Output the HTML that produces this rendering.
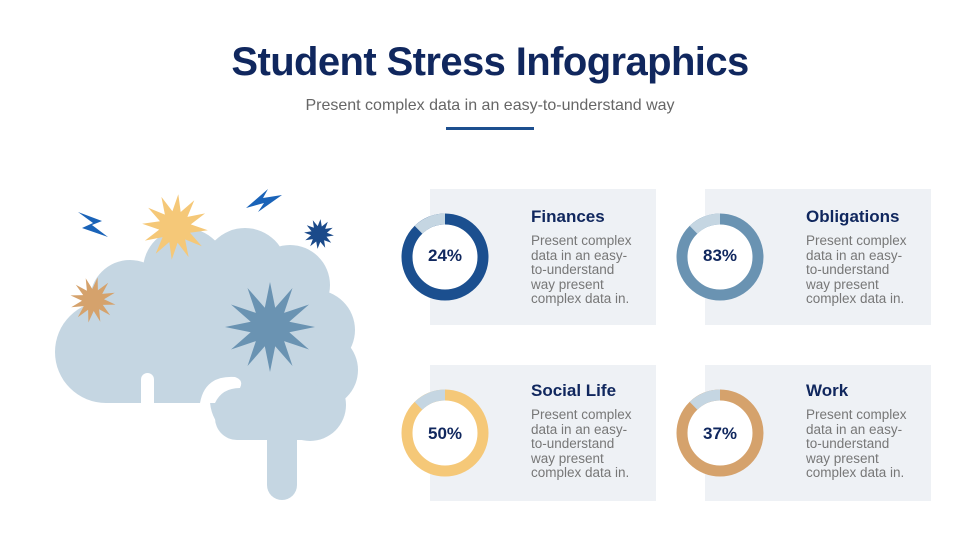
<!DOCTYPE html>
<html><head><meta charset="utf-8"><style>
body{margin:0;width:980px;height:551px;background:#fff;font-family:"Liberation Sans",sans-serif;position:relative;overflow:hidden}
h1{position:absolute;left:0;width:980px;top:40px;margin:0;text-align:center;font-size:40px;color:#10275e;font-weight:bold;letter-spacing:-0.6px}
.sub{position:absolute;left:0;width:980px;top:97px;text-align:center;font-size:16px;color:#666}
.bar{position:absolute;left:446px;top:127px;width:88px;height:3px;background:#1d4f8f}
.card{position:absolute;width:226px;height:136px;background:#eef1f5}
.t{position:absolute;font-size:17px;font-weight:bold;color:#10275e}
.d{position:absolute;font-size:13.5px;line-height:14.6px;color:#777}
.p{position:absolute;font-size:17px;font-weight:bold;color:#10275e;width:80px;text-align:center}
</style></head><body>
<h1>Student Stress Infographics</h1>
<div class="sub">Present complex data in an easy-to-understand way</div>
<div class="bar"></div>
<div class="card" style="left:430px;top:189px"></div>
<div class="card" style="left:705px;top:189px"></div>
<div class="card" style="left:430px;top:365px"></div>
<div class="card" style="left:705px;top:365px"></div>
<svg width="980" height="551" style="position:absolute;left:0;top:0">
<g fill="#fff" stroke-width="11">
<circle cx="445" cy="257" r="38" stroke="#1b4f8f"/><path d="M445 219 A38 38 0 0 0 418.5 229.8" fill="none" stroke="#c5d6e2"/>
<circle cx="720" cy="257" r="38" stroke="#6a93b2"/><path d="M720 219 A38 38 0 0 0 693.5 229.8" fill="none" stroke="#c5d6e2"/>
<circle cx="445" cy="433" r="38" stroke="#f5c878"/><path d="M445 395 A38 38 0 0 0 418.5 405.8" fill="none" stroke="#c5d6e2"/>
<circle cx="720" cy="433" r="38" stroke="#d5a26c"/><path d="M720 395 A38 38 0 0 0 693.5 405.8" fill="none" stroke="#c5d6e2"/>
</g>
<g fill="#c5d6e2">
<circle cx="106" cy="352" r="51"/><circle cx="130" cy="300" r="40"/><circle cx="185" cy="270" r="42"/>
<circle cx="245" cy="270" r="42"/><circle cx="290" cy="285" r="40"/><circle cx="315" cy="330" r="40"/>
<circle cx="320" cy="370" r="38"/><circle cx="250" cy="400" r="40"/><circle cx="310" cy="405" r="36"/>
<rect x="106" y="320" width="154" height="83"/><rect x="130" y="280" width="180" height="100"/>
<rect x="215" y="380" width="110" height="60" rx="22"/>
<rect x="267" y="420" width="30" height="80" rx="15"/>
</g>
<g fill="#fff">
<rect x="141" y="373" width="13" height="40" rx="6.5"/>
<path d="M200 403 Q205 375 235 377 Q244 380 240 388 Q222 388 215 403 Z"/>
</g>
<g id="stars"></g>
<g fill="#1a63b8">
<polygon points="78,212 102,221 92,225 108,237 82,228 93,223"/>
<polygon points="246,208 268,189 263,198 282,195 258,212 264,203"/>
</g>
</svg>
<div class="p" style="left:405px;top:246px">24%</div>
<div class="p" style="left:680px;top:246px">83%</div>
<div class="p" style="left:405px;top:424px">50%</div>
<div class="p" style="left:680px;top:424px">37%</div>
<div class="t" style="left:531px;top:207px">Finances</div>
<div class="t" style="left:806px;top:207px">Obligations</div>
<div class="t" style="left:531px;top:381px">Social Life</div>
<div class="t" style="left:806px;top:381px">Work</div>
<div class="d" style="left:531px;top:234px">Present complex<br>data in an easy-<br>to-understand<br>way present<br>complex data in.</div>
<div class="d" style="left:806px;top:234px">Present complex<br>data in an easy-<br>to-understand<br>way present<br>complex data in.</div>
<div class="d" style="left:531px;top:408px">Present complex<br>data in an easy-<br>to-understand<br>way present<br>complex data in.</div>
<div class="d" style="left:806px;top:408px">Present complex<br>data in an easy-<br>to-understand<br>way present<br>complex data in.</div>
<script>
function star(cx,cy,R,r,n,c,rot){var p=[];for(var i=0;i<2*n;i++){var a=rot+Math.PI*i/n,rr=i%2?r:R;p.push((cx+rr*Math.sin(a)).toFixed(1)+","+(cy-rr*Math.cos(a)).toFixed(1));}
return '<polygon fill="'+c+'" points="'+p.join(" ")+'"/>';}
document.getElementById("stars").innerHTML=
star(175,227,33,16,12,"#f5c878",0.1)+star(93,300,23,11,12,"#d5a26c",0.2)+
star(270,327,45,20,12,"#6a93b2",0)+star(319,234,15,8,12,"#1b4a8a",0.1);
</script>
</body></html>
